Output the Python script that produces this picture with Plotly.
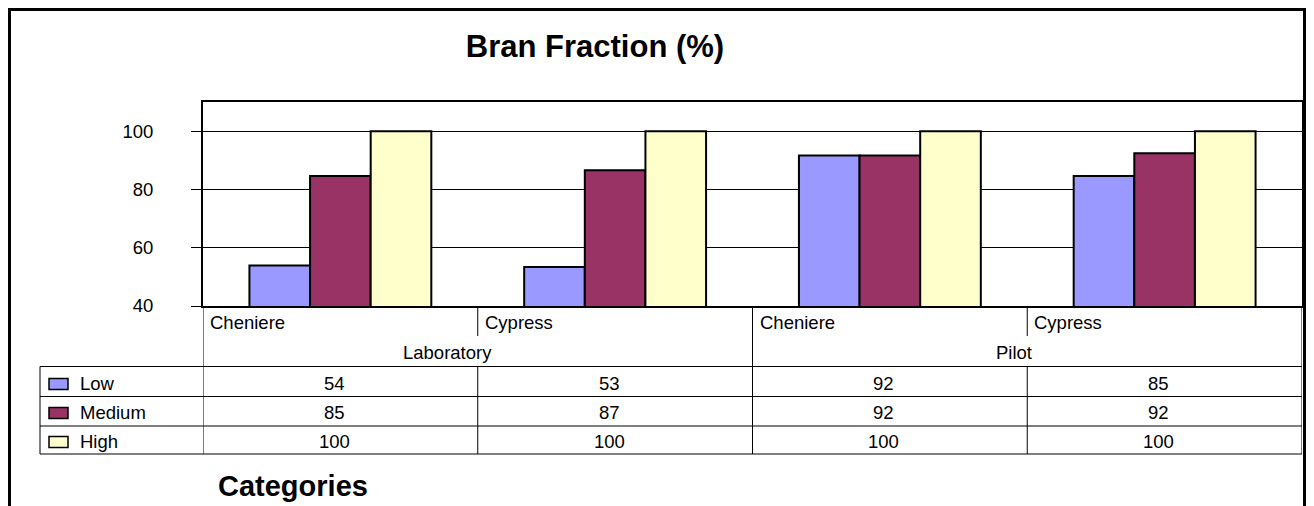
import plotly.graph_objects as go

# ---- data ----
groups = ["Laboratory", "Laboratory", "Pilot", "Pilot"]
varieties = ["Cheniere", "Cypress", "Cheniere", "Cypress"]
series_names = ["Low", "Medium", "High"]
low = [53.9, 53.4, 91.6, 84.6]
medium = [84.6, 86.6, 91.6, 92.4]
high = [100, 100, 100, 100]
y_ticks = [40, 60, 80, 100]
title_text = "Bran Fraction (%)"
x_title = "Categories"

colors = ["#9999FF", "#993366", "#FFFFCC"]
FONT = "Arial, Liberation Sans, sans-serif"
FS = 18.5

# page body has an 8px margin; design in screen pixels and convert
OFF = 8
W, H = 1298, 498
PLOT_L, PLOT_R, PLOT_T, PLOT_B = 203, 1302, 102, 306  # screen px
ML = PLOT_L - OFF
MT = PLOT_T - OFF
MR = W - (PLOT_R - OFF)
MB = H - (PLOT_B - OFF)
PW = W - ML - MR
PH = H - MT - MB


def px(x):
    return (x - PLOT_L) / PW


def py(y):
    return (PLOT_B - y) / PH


cats = [f"{g}|{v}" for g, v in zip(groups, varieties)]
values = [low, medium, high]

fig = go.Figure()
for name, vals, col in zip(series_names, values, colors):
    fig.add_trace(go.Bar(
        x=cats, y=vals, name=name,
        marker=dict(color=col, line=dict(color="black", width=2)),
        showlegend=False,
    ))

shapes = []
annotations = []
LINE = dict(color="black", width=1)
BORDER = dict(color="black", width=3)
RIGHT_EDGE = OFF + W - 1.5

# outer chart border (left, top, right)
shapes.append(dict(type="line", xref="paper", yref="paper",
                   x0=px(OFF + 1.5), x1=px(OFF + 1.5), y0=py(515), y1=py(OFF + 1.5), line=BORDER))
shapes.append(dict(type="line", xref="paper", yref="paper",
                   x0=px(OFF), x1=px(OFF + W), y0=py(OFF + 1.5), y1=py(OFF + 1.5), line=BORDER))
shapes.append(dict(type="line", xref="paper", yref="paper",
                   x0=px(RIGHT_EDGE), x1=px(RIGHT_EDGE), y0=py(515), y1=py(OFF), line=BORDER))

n = len(cats)
y_cat_top, y_cat_mid = 306, 336
row_lines = [366.5, 396.5, 426, 454]
for i in range(n + 1):
    xb = i - 0.5
    if i in (0, n) or groups[i] != groups[i - 1]:
        shapes.append(dict(type="line", xref="x", yref="paper", x0=xb, x1=xb,
                           y0=py(y_cat_top), y1=py(row_lines[-1]), line=LINE))
    else:
        shapes.append(dict(type="line", xref="x", yref="paper", x0=xb, x1=xb,
                           y0=py(y_cat_top), y1=py(y_cat_mid), line=LINE))
        shapes.append(dict(type="line", xref="x", yref="paper", x0=xb, x1=xb,
                           y0=py(row_lines[0]), y1=py(row_lines[-1]), line=LINE))
shapes.append(dict(type="line", xref="paper", yref="paper", x0=px(40), x1=px(40),
                   y0=py(row_lines[0]), y1=py(row_lines[-1]), line=LINE))
for yl in row_lines:
    shapes.append(dict(type="line", xref="paper", yref="paper", x0=px(40), x1=1,
                       y0=py(yl), y1=py(yl), line=LINE))

for i, v in enumerate(varieties):
    annotations.append(dict(x=i - 0.5, y=py(322), xref="x", yref="paper", text=v,
                            showarrow=False, xanchor="left", yanchor="middle",
                            xshift=5, font=dict(size=FS, family=FONT, color="black")))
seen = []
for g in groups:
    if g not in seen:
        seen.append(g)
shifts = {"Laboratory": -30, "Pilot": -13}
for g in seen:
    idx = [i for i, gg in enumerate(groups) if gg == g]
    center = (idx[0] + idx[-1]) / 2
    annotations.append(dict(x=center, y=py(352), xref="x", yref="paper", text=g,
                            showarrow=False, xanchor="center", yanchor="middle",
                            xshift=shifts.get(g, 0),
                            font=dict(size=FS, family=FONT, color="black")))

row_centers = [383.5, 412.5, 441.5]
for r, (name, vals, col) in enumerate(zip(series_names, values, colors)):
    yc = row_centers[r]
    shapes.append(dict(type="rect", xref="paper", yref="paper",
                       x0=px(49), x1=px(68), y0=py(yc + 6), y1=py(yc - 5),
                       fillcolor=col, line=dict(color="black", width=1.5)))
    annotations.append(dict(x=px(78), y=py(yc), xref="paper", yref="paper", text=name,
                            showarrow=False, xanchor="left", yanchor="middle",
                            font=dict(size=FS, family=FONT, color="black")))
    for i, v in enumerate(vals):
        annotations.append(dict(x=i, y=py(yc), xref="x", yref="paper",
                                text=str(int(round(v))), showarrow=False,
                                xanchor="center", yanchor="middle", xshift=-6,
                                font=dict(size=FS, family=FONT, color="black")))

annotations.append(dict(x=px(293), y=py(486), xref="paper", yref="paper", text=f"<b>{x_title}</b>",
                        showarrow=False, xanchor="center", yanchor="middle",
                        font=dict(size=29, family=FONT, color="black")))

fig.update_layout(
    width=W, height=H,
    margin=dict(l=ML, r=MR, t=MT, b=MB, autoexpand=False),
    paper_bgcolor="white", plot_bgcolor="white",
    barmode="group", bargap=0.338, bargroupgap=0,
    title=dict(text=f"<b>{title_text}</b>", xref="container", yref="container",
               x=(595 - OFF) / W, y=1 - (46 - OFF) / H, xanchor="center", yanchor="middle",
               font=dict(size=31, family=FONT, color="black")),
    font=dict(family=FONT, color="black"),
    shapes=shapes, annotations=annotations,
    xaxis=dict(type="category", showticklabels=False, ticks="", showgrid=False,
               showline=True, linecolor="black", linewidth=2, mirror=True,
               range=[-0.5, n - 0.5], fixedrange=True),
    yaxis=dict(range=[40, 110], tickvals=y_ticks, showgrid=True, gridcolor="black",
               gridwidth=1, zeroline=False, ticks="outside", ticklen=10, tickcolor="black",
               tickwidth=1, showline=True, linecolor="black", linewidth=2, mirror=True,
               ticklabelstandoff=34, tickfont=dict(size=FS, family=FONT, color="black"),
               fixedrange=True),
)

fig.write_html("out.html")
